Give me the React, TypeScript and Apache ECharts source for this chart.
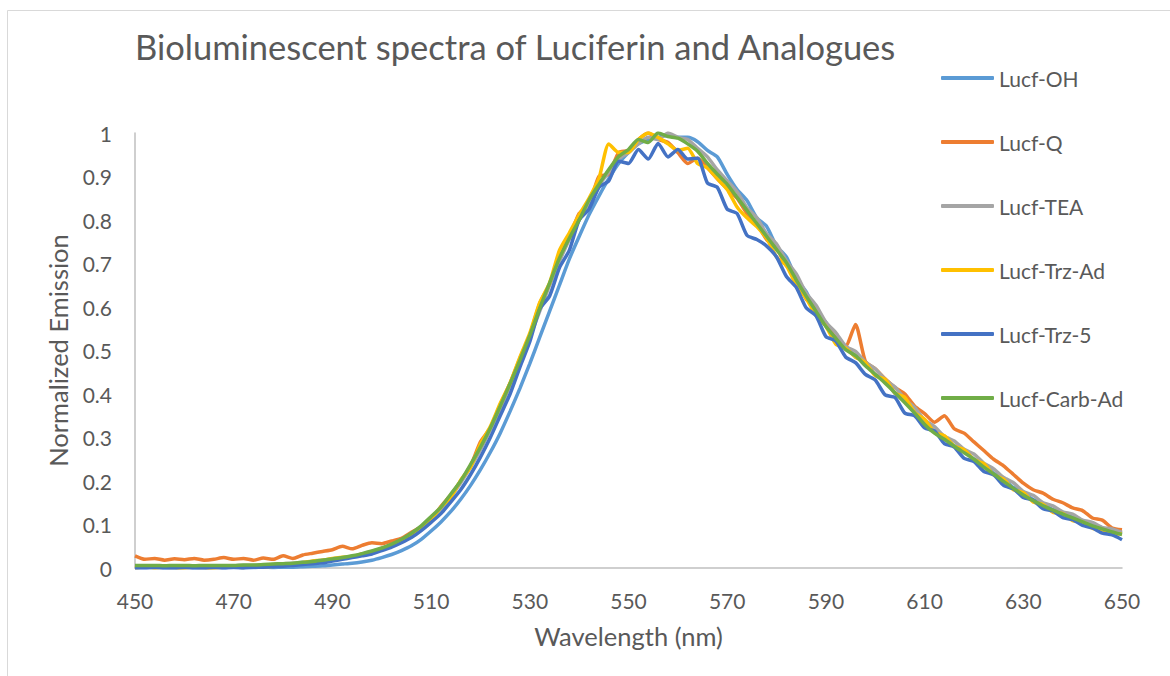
import { useEffect, useRef } from "react";
import * as echarts from "echarts";

const wavelengths = [
  450, 452, 454, 456, 458, 460, 462, 464, 466, 468,
  470, 472, 474, 476, 478, 480, 482, 484, 486, 488,
  490, 492, 494, 496, 498, 500, 502, 504, 506, 508,
  510, 512, 514, 516, 518, 520, 522, 524, 526, 528,
  530, 532, 534, 536, 538, 540, 542, 544, 546, 548,
  550, 552, 554, 556, 558, 560, 562, 564, 566, 568,
  570, 572, 574, 576, 578, 580, 582, 584, 586, 588,
  590, 592, 594, 596, 598, 600, 602, 604, 606, 608,
  610, 612, 614, 616, 618, 620, 622, 624, 626, 628,
  630, 632, 634, 636, 638, 640, 642, 644, 646, 648,
  650,
];

const lucfOH = [
  0.003, 0.002, 0.002, 0.001, 0.001, 0.002, 0.001, 0.001, 0.002, 0.001,
  0.002, 0.001, 0.001, 0.002, 0.001, 0.002, 0.002, 0.003, 0.004, 0.005,
  0.007, 0.009, 0.011, 0.014, 0.018, 0.024, 0.031, 0.040, 0.051, 0.066,
  0.085, 0.106, 0.130, 0.158, 0.190, 0.226, 0.266, 0.310, 0.360, 0.413,
  0.470, 0.530, 0.590, 0.650, 0.710, 0.762, 0.812, 0.855, 0.895, 0.930,
  0.955, 0.975, 0.985, 0.990, 0.995, 0.990, 0.990, 0.980, 0.960, 0.945,
  0.905, 0.870, 0.845, 0.805, 0.785, 0.740, 0.715, 0.665, 0.635, 0.590,
  0.565, 0.525, 0.510, 0.485, 0.474, 0.444, 0.432, 0.401, 0.386, 0.356,
  0.338, 0.313, 0.302, 0.281, 0.270, 0.250, 0.238, 0.218, 0.205, 0.185,
  0.174, 0.157, 0.148, 0.134, 0.127, 0.116, 0.109, 0.099, 0.093, 0.084,
  0.079,
];

const lucfQ = [
  0.028, 0.020, 0.022, 0.018, 0.021, 0.019, 0.022, 0.018, 0.020, 0.024,
  0.020, 0.022, 0.018, 0.023, 0.020, 0.028, 0.022, 0.030, 0.034, 0.038,
  0.042, 0.050, 0.044, 0.052, 0.058, 0.056, 0.062, 0.068, 0.082, 0.095,
  0.110, 0.142, 0.168, 0.200, 0.235, 0.290, 0.322, 0.375, 0.425, 0.482,
  0.535, 0.608, 0.652, 0.712, 0.760, 0.815, 0.835, 0.900, 0.905, 0.955,
  0.960, 0.985, 1.000, 0.985, 0.978, 0.955, 0.930, 0.942, 0.920, 0.895,
  0.872, 0.850, 0.815, 0.790, 0.755, 0.735, 0.695, 0.672, 0.618, 0.598,
  0.560, 0.530, 0.510, 0.560, 0.475, 0.458, 0.435, 0.415, 0.400, 0.372,
  0.355, 0.335, 0.350, 0.320, 0.310, 0.290, 0.270, 0.250, 0.235, 0.215,
  0.195, 0.180, 0.172, 0.158, 0.150, 0.138, 0.132, 0.115, 0.110, 0.092,
  0.088,
];

const lucfTEA = [
  0.004, 0.005, 0.004, 0.005, 0.004, 0.005, 0.004, 0.005, 0.004, 0.005,
  0.005, 0.006, 0.006, 0.007, 0.008, 0.010, 0.011, 0.013, 0.015, 0.018,
  0.020, 0.023, 0.027, 0.032, 0.038, 0.045, 0.053, 0.064, 0.077, 0.093,
  0.112, 0.136, 0.164, 0.196, 0.232, 0.272, 0.318, 0.366, 0.420, 0.472,
  0.530, 0.590, 0.650, 0.705, 0.755, 0.800, 0.840, 0.880, 0.910, 0.940,
  0.955, 0.975, 0.990, 0.985, 1.000, 0.990, 0.985, 0.965, 0.945, 0.915,
  0.890, 0.865, 0.828, 0.805, 0.768, 0.745, 0.706, 0.676, 0.632, 0.604,
  0.565, 0.541, 0.510, 0.498, 0.473, 0.458, 0.433, 0.416, 0.388, 0.369,
  0.340, 0.325, 0.303, 0.292, 0.273, 0.262, 0.241, 0.228, 0.208, 0.196,
  0.176, 0.167, 0.150, 0.143, 0.129, 0.124, 0.110, 0.105, 0.093, 0.090,
  0.082,
];

const lucfTrzAd = [
  0.000, 0.003, 0.000, 0.002, 0.001, 0.000, 0.002, 0.001, 0.000, 0.002,
  0.002, 0.001, 0.003, 0.002, 0.004, 0.006, 0.008, 0.012, 0.016, 0.018,
  0.022, 0.025, 0.026, 0.032, 0.036, 0.044, 0.054, 0.062, 0.076, 0.092,
  0.112, 0.140, 0.162, 0.202, 0.232, 0.285, 0.325, 0.378, 0.425, 0.485,
  0.540, 0.610, 0.655, 0.730, 0.770, 0.812, 0.850, 0.895, 0.975, 0.955,
  0.955, 0.985, 1.000, 0.990, 0.975, 0.960, 0.965, 0.930, 0.920, 0.895,
  0.870, 0.830, 0.805, 0.785, 0.758, 0.715, 0.695, 0.650, 0.620, 0.580,
  0.556, 0.515, 0.505, 0.485, 0.472, 0.442, 0.434, 0.402, 0.392, 0.357,
  0.342, 0.312, 0.304, 0.280, 0.272, 0.249, 0.240, 0.214, 0.204, 0.180,
  0.173, 0.152, 0.146, 0.128, 0.125, 0.109, 0.106, 0.091, 0.088, 0.077,
  0.079,
];

const lucfTrz5 = [
  0.000, 0.000, 0.001, 0.000, 0.000, 0.001, 0.000, 0.000, 0.001, 0.000,
  0.001, 0.000, 0.002, 0.002, 0.003, 0.004, 0.006, 0.008, 0.010, 0.012,
  0.016, 0.020, 0.024, 0.028, 0.032, 0.040, 0.048, 0.058, 0.070, 0.086,
  0.105, 0.125, 0.152, 0.180, 0.215, 0.255, 0.300, 0.350, 0.400, 0.462,
  0.520, 0.595, 0.625, 0.690, 0.730, 0.800, 0.825, 0.875, 0.890, 0.935,
  0.930, 0.962, 0.940, 0.976, 0.945, 0.962, 0.940, 0.942, 0.885, 0.875,
  0.825, 0.815, 0.765, 0.755, 0.740, 0.715, 0.670, 0.645, 0.598, 0.580,
  0.532, 0.522, 0.485, 0.472, 0.445, 0.432, 0.398, 0.392, 0.356, 0.350,
  0.322, 0.315, 0.286, 0.278, 0.252, 0.245, 0.222, 0.214, 0.190, 0.182,
  0.162, 0.156, 0.136, 0.131, 0.116, 0.111, 0.098, 0.092, 0.080, 0.076,
  0.065,
];

const lucfCarbAd = [
  0.006, 0.006, 0.006, 0.005, 0.006, 0.006, 0.005, 0.006, 0.006, 0.006,
  0.006, 0.007, 0.007, 0.008, 0.009, 0.010, 0.011, 0.013, 0.015, 0.018,
  0.021, 0.024, 0.028, 0.033, 0.039, 0.046, 0.055, 0.066, 0.080, 0.097,
  0.118, 0.140, 0.170, 0.200, 0.238, 0.278, 0.322, 0.372, 0.424, 0.478,
  0.535, 0.597, 0.655, 0.712, 0.758, 0.800, 0.846, 0.882, 0.916, 0.946,
  0.962, 0.985, 0.978, 1.000, 0.992, 0.988, 0.975, 0.958, 0.930, 0.905,
  0.882, 0.852, 0.822, 0.792, 0.762, 0.732, 0.702, 0.662, 0.625, 0.590,
  0.555, 0.528, 0.502, 0.488, 0.465, 0.445, 0.425, 0.403, 0.380, 0.356,
  0.330, 0.310, 0.296, 0.280, 0.265, 0.250, 0.232, 0.216, 0.199, 0.183,
  0.168, 0.155, 0.143, 0.133, 0.124, 0.115, 0.106, 0.097, 0.090, 0.083,
  0.077,
];

const seriesNames = ["Lucf-OH", "Lucf-Q", "Lucf-TEA", "Lucf-Trz-Ad", "Lucf-Trz-5", "Lucf-Carb-Ad"];
const seriesValues = [lucfOH, lucfQ, lucfTEA, lucfTrzAd, lucfTrz5, lucfCarbAd];
const seriesColors = ["#5B9BD5", "#ED7D31", "#A5A5A5", "#FFC000", "#4472C4", "#70AD47"];

const titleText = "Bioluminescent spectra of Luciferin and Analogues";
const xAxisTitle = "Wavelength (nm)";
const yAxisTitle = "Normalized Emission";

const FONT = "Lato, 'Open Sans', sans-serif";
const TEXT_COLOR = "#595959";
const AXIS_COLOR = "#BFBFBF";

export default function App() {
  const ref = useRef<HTMLDivElement>(null);

  useEffect(() => {
    if (!ref.current) return;
    const chart = echarts.init(ref.current, null, { renderer: "svg" });
    chart.setOption({
      animation: false,
      backgroundColor: "#ffffff",
      textStyle: { fontFamily: FONT },
      title: {
        text: titleText,
        left: 130,
        top: 24,
        textStyle: { fontFamily: FONT, fontSize: 34.5, fontWeight: "normal", color: TEXT_COLOR },
      },
      graphic: [
        {
          type: "rect",
          shape: { x: 7.5, y: 10.5, width: 1300, height: 800 },
          style: { fill: "none", stroke: "#D9D9D9", lineWidth: 1 },
          silent: true,
        },
      ],
      legend: {
        orient: "vertical",
        left: 936,
        top: 62,
        icon: "roundRect",
        itemWidth: 53,
        itemHeight: 4,
        itemGap: 42,
        textStyle: { fontFamily: FONT, fontSize: 21, color: TEXT_COLOR, lineHeight: 22 },
        data: seriesNames,
      },
      grid: { left: 135, right: 48, top: 133, bottom: 108, containLabel: false },
      xAxis: {
        type: "value",
        min: 450,
        max: 650,
        interval: 20,
        name: xAxisTitle,
        nameLocation: "middle",
        nameGap: 55,
        nameTextStyle: { fontFamily: FONT, fontSize: 25.5, color: TEXT_COLOR },
        axisLine: { show: true, onZero: false, lineStyle: { color: AXIS_COLOR, width: 1.5 } },
        axisTick: { show: false },
        splitLine: { show: false },
        axisLabel: { fontFamily: FONT, fontSize: 21, color: TEXT_COLOR, margin: 22 },
      },
      yAxis: {
        type: "value",
        min: 0,
        max: 1,
        interval: 0.1,
        name: yAxisTitle,
        nameLocation: "middle",
        nameGap: 64,
        nameRotate: 90,
        nameTextStyle: { fontFamily: FONT, fontSize: 25.5, color: TEXT_COLOR },
        axisLine: { show: true, lineStyle: { color: AXIS_COLOR, width: 1.5 } },
        axisTick: { show: false },
        splitLine: { show: false },
        axisLabel: {
          fontFamily: FONT,
          fontSize: 21,
          color: TEXT_COLOR,
          margin: 23,
          formatter: (v: number) => String(Math.round(v * 10) / 10),
        },
      },
      series: seriesNames.map((name, i) => ({
        name,
        type: "line",
        symbol: "none",
        smooth: 0.2,
        data: wavelengths.map((w, j) => [w, seriesValues[i][j]]),
        lineStyle: { color: seriesColors[i], width: 3.5 },
        itemStyle: { color: seriesColors[i] },
        emphasis: { disabled: true },
      })),
    });
    return () => chart.dispose();
  }, []);

  return (
    <div
      ref={ref}
      style={{ position: "fixed", left: 0, top: 0, width: 1170, height: 676, background: "#fff" }}
    />
  );
}
